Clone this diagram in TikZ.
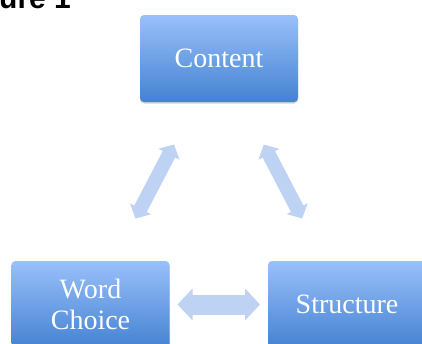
\documentclass[tikz,border=0pt]{standalone}
\usepackage{fontspec}
\setmainfont{Liberation Serif}
\newfontfamily\titlefont{Liberation Sans}
\usepackage{xcolor}
\usetikzlibrary{arrows.meta, positioning, calc, shadows}
\definecolor{boxtop}{RGB}{153,192,250}
\definecolor{boxbottom}{RGB}{68,130,210}
\definecolor{linkcolor}{RGB}{190,210,243}

\begin{document}
\begin{tikzpicture}[
    x=1pt, y=1pt,
    box/.style={rectangle, rounded corners=4pt, top color=boxtop, bottom color=boxbottom,
                minimum width=158pt, minimum height=87pt, text=white, align=center,
                font=\fontsize{28}{31}\selectfont,
                drop shadow={shadow xshift=0pt, shadow yshift=-1.5pt, opacity=0.35}},
    link/.style={draw=linkcolor, line width=14pt,
                 {Triangle[width=23pt, length=11pt]}-{Triangle[width=23pt, length=11pt]}},
    widelink/.style={draw=linkcolor, line width=20pt,
                 {Triangle[width=31pt, length=15pt]}-{Triangle[width=31pt, length=15pt]}}
]
\useasboundingbox (0,0) rectangle (422,-343);

% title, cut off by the page
\node[anchor=base west, inner sep=0pt, font=\titlefont\bfseries\fontsize{30}{32}\selectfont] (title) at (-1,-8) {ure 1};

% the three boxes
\node[box] (content) at (219,-58.5) {Content};
\node[box] (word) at (90.5,-304.5) {Word\\Choice};
\node[box] (structure) at (347,-304.5) {Structure};

% double arrows between them
\draw[link, shorten <=97pt, shorten >=97pt] (word.center) -- (content.center);
\draw[link, shorten <=97pt, shorten >=97pt] (structure.center) -- (content.center);
\draw[widelink, shorten <=87pt, shorten >=87pt] (word.center) -- (structure.center);

\end{tikzpicture}
\end{document}
